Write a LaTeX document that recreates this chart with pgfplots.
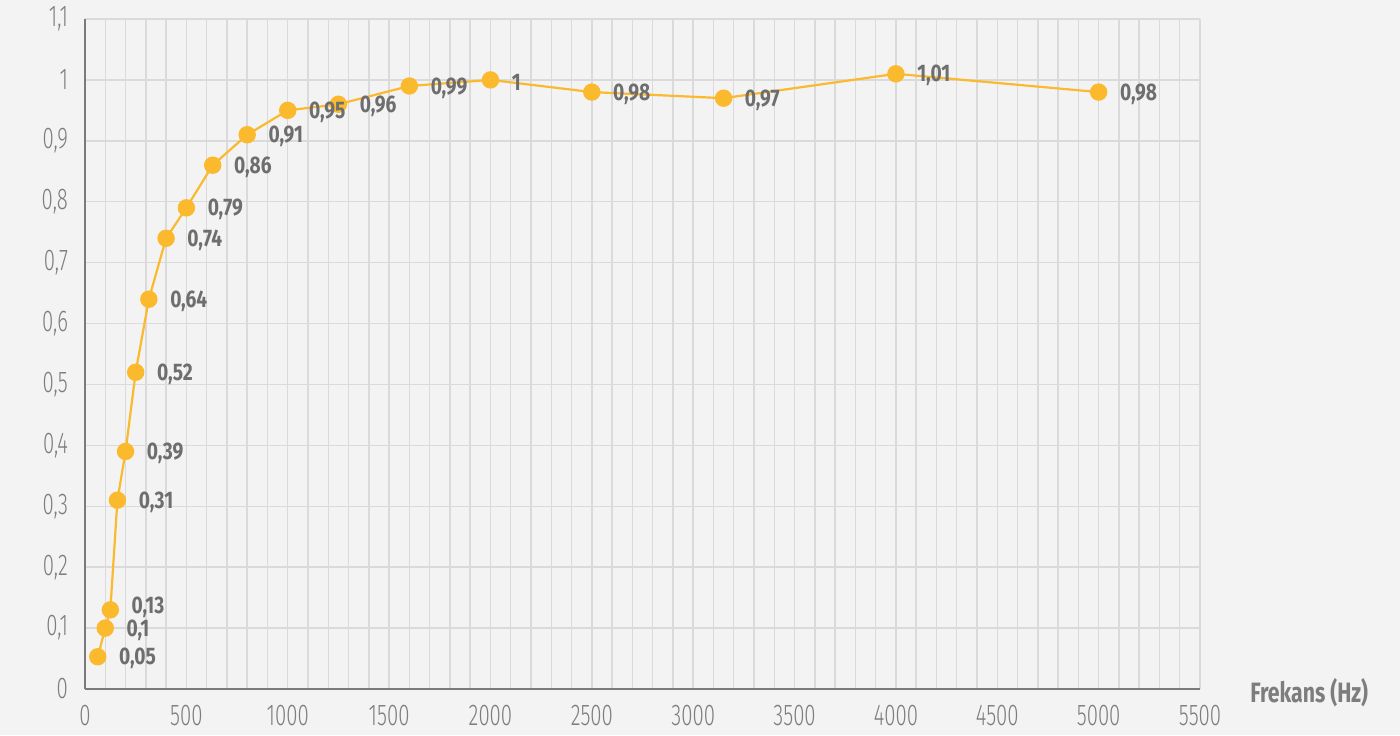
\documentclass[border=0pt]{standalone}
\usepackage{pgfplots}
\pgfplotsset{compat=1.18}
\usepackage{fontspec}
\setmainfont{Fira Sans}[FakeStretch=0.8]
\newfontfamily\lightfont{Fira Sans Light}[FakeStretch=0.68]
\newfontfamily\titlefont{Fira Sans}[FakeStretch=0.76]
\definecolor{bgc}{HTML}{F3F3F3}
\definecolor{gridc}{HTML}{DADADA}
\definecolor{axc}{HTML}{7A7A7A}
\definecolor{tickc}{HTML}{7D7D7D}
\definecolor{labc}{HTML}{6E6E6E}
\definecolor{linec}{HTML}{FBB92E}
\begin{document}
\begin{tikzpicture}
\useasboundingbox (0,0) rectangle (700pt,367.5pt);
\fill[bgc] (0,0) rectangle (700pt,367.5pt);
\begin{axis}[
  at={(42.5pt,23pt)}, anchor=south west,
  scale only axis, width=557.5pt, height=335pt,
  xmin=0, xmax=5500, ymin=0, ymax=1.1,
  xtick={0,500,...,5500},
  ytick={0,0.1,...,1.1},
  minor x tick num=4,
  axis x line=bottom, axis y line=left,
  axis line style={axc, line width=1.1pt, -},
  major tick length=0pt, minor tick length=0pt,
  grid=both,
  ymajorgrids=true, yminorgrids=false,
  major grid style={gridc, line width=0.7pt},
  minor grid style={gridc, line width=0.7pt},
  /pgf/number format/assume math mode=true,
  /pgf/number format/use comma,
  /pgf/number format/1000 sep={},
  tick label style={font=\lightfont\fontsize{15}{17}\selectfont, text=tickc},
  xticklabel style={yshift=-4.5pt},
  yticklabel style={xshift=-5pt},
  clip=false,
]
\addplot[linec, line width=1.1pt, mark=*, mark size=3.8pt, mark options={fill=linec, draw=linec}]
coordinates {
(63,0.053) (100,0.10) (125,0.13) (160,0.31) (200,0.39) (250,0.52) (315,0.64)
(400,0.74) (500,0.79) (630,0.86) (800,0.91) (1000,0.95) (1250,0.96) (1600,0.99)
(2000,1.00) (2500,0.98) (3150,0.97) (4000,1.01) (5000,0.98)
};
\addplot[draw=none, mark=none,
  nodes near coords,
  point meta=explicit symbolic,
  nodes near coords style={anchor=west, xshift=10.5pt, yshift=-1pt, inner sep=0pt,
     font=\fontsize{12}{14}\selectfont\bfseries, text=labc},
]
coordinates {
(63,0.053) [0,05]
(100,0.10) [0,1]
(125,0.137) [0,13]
(160,0.31) [0,31]
(200,0.39) [0,39]
(250,0.52) [0,52]
(315,0.64) [0,64]
(400,0.74) [0,74]
(500,0.79) [0,79]
(630,0.86) [0,86]
(800,0.91) [0,91]
(1000,0.95) [0,95]
(1250,0.96) [0,96]
(1600,0.99) [0,99]
(2000,1.00) [1]
(2500,0.98) [0,98]
(3150,0.97) [0,97]
(4000,1.01) [1,01]
(5000,0.98) [0,98]
};
\node[anchor=west, inner sep=0pt, font=\titlefont\fontsize{14}{16}\selectfont\bfseries, text=tickc]
  at (rel axis cs:1,0) [xshift=25pt, yshift=-2pt] {Frekans (Hz)};
\end{axis}
\end{tikzpicture}
\end{document}
